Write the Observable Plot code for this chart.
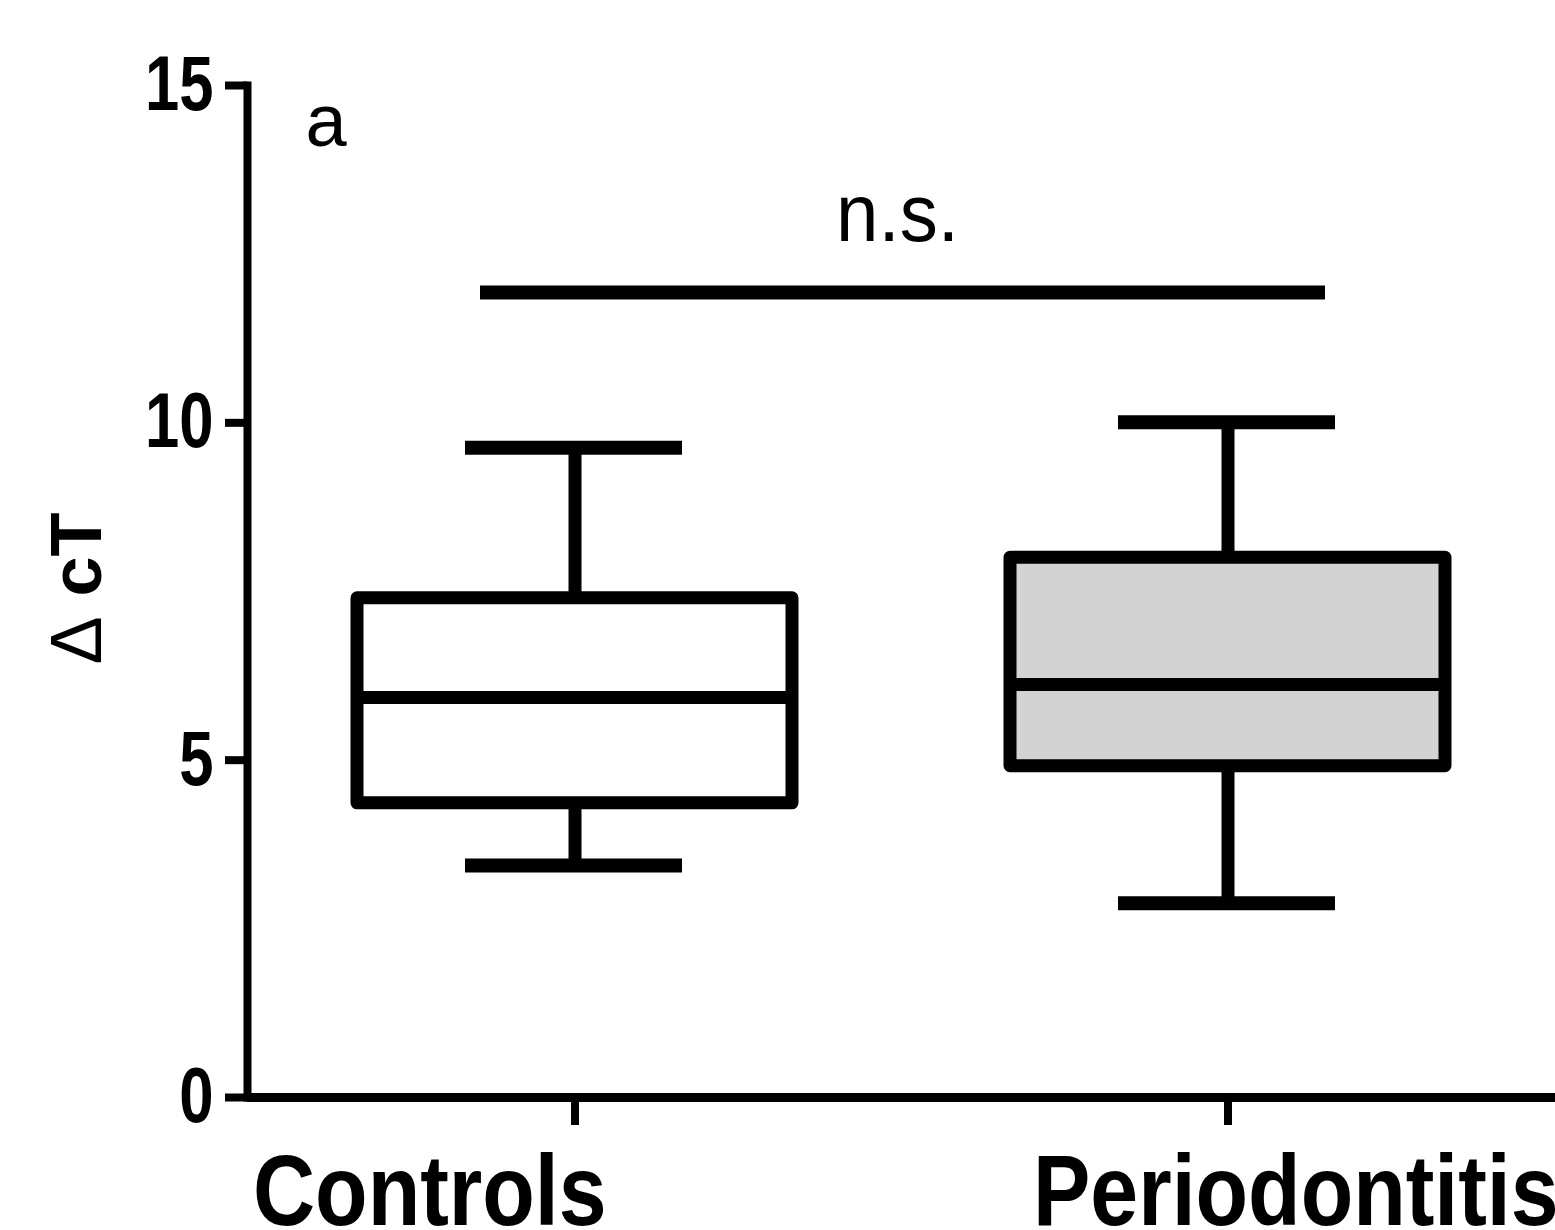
<!DOCTYPE html>
<html><head><meta charset="utf-8">
<script src="https://cdn.jsdelivr.net/npm/d3@7"></script>
<script src="https://cdn.jsdelivr.net/npm/@observablehq/plot@0.6"></script>
<style>html,body{margin:0;padding:0;background:#fff}</style>
</head><body><div id="chart"></div>
<script>
// Data
const groups = ["Controls", "Periodontitis"];
const whiskerLow = [3.44, 2.88];
const q1 = [4.36, 4.91];
const median = [5.93, 6.12];
const q3 = [7.40, 8.00];
const whiskerHigh = [9.63, 10.01];
const boxFill = ["white", "#d3d3d3"];
const yTicks = [0, 5, 10, 15];
const sigFrom = "Controls", sigTo = "Periodontitis", sigY = 11.93, sigLabel = "n.s.", sigLabelY = 12.7;
const panelLabel = "a";
const yLabelSymbol = "Δ", yLabelText = " cT";

const rows = groups.map((g, i) => ({group: g, lo: whiskerLow[i], q1: q1[i], med: median[i], q3: q3[i], hi: whiskerHigh[i], fill: boxFill[i]}));
const sig = [{from: sigFrom, to: sigTo, y: sigY, label: sigLabel, labelY: sigLabelY}];

const SANS = '"Liberation Sans", Arial, Helvetica, sans-serif';

const chart = Plot.plot({
  width: 1555, height: 1230,
  marginLeft: 247, marginRight: 0, marginTop: 85, marginBottom: 133,
  x: {type: "band", domain: groups, paddingInner: 0.334, paddingOuter: 0.168, label: null},
  y: {domain: [0, 15], label: null},
  color: {type: "identity"},
  style: {background: "white", overflow: "visible", color: "black", fontFamily: SANS},
  marks: [
    Plot.ruleX(rows, {x: "group", y1: "q3", y2: "hi", strokeWidth: 13}),
    Plot.ruleX(rows, {x: "group", y1: "lo", y2: "q1", strokeWidth: 13}),
    Plot.tickY(rows, {x: "group", y: "hi", strokeWidth: 14, insetLeft: 108, insetRight: 110}),
    Plot.tickY(rows, {x: "group", y: "lo", strokeWidth: 14, insetLeft: 108, insetRight: 110}),
    Plot.barY(rows, {x: "group", y1: "q1", y2: "q3", fill: "fill", stroke: "black", strokeWidth: 13, strokeLinejoin: "round"}),
    Plot.tickY(rows, {x: "group", y: "med", strokeWidth: 13}),
    Plot.ruleY(sig, {y: "y", x1: "from", x2: "to", strokeWidth: 14, insetLeft: 123, insetRight: 120}),
    Plot.text(sig, {y: "labelY", text: "label", lineAnchor: "bottom", dx: -4, fontSize: 82, fontFamily: SANS}),
    Plot.frame({anchor: "left", strokeWidth: 8, strokeLinecap: "square"}),
    Plot.ruleY([0], {strokeWidth: 9}),
    Plot.axisY({ticks: yTicks, tickSize: 22, strokeWidth: 8, tickPadding: 12, fontSize: 77, fontWeight: "bold", fontFamily: SANS, label: null}),
    Plot.axisX({tickSize: 28, strokeWidth: 8, tickFormat: () => "", label: null}),
    Plot.text([groups[0]], {x: d => d, frameAnchor: "bottom", textAnchor: "start", lineAnchor: "bottom", dx: -322, dy: 127, fontSize: 100, fontWeight: "bold", fontFamily: SANS}),
    Plot.text([groups[1]], {x: d => d, frameAnchor: "bottom", textAnchor: "start", lineAnchor: "bottom", dx: -195, dy: 127, fontSize: 100, fontWeight: "bold", fontFamily: SANS}),
    Plot.text([yLabelSymbol + yLabelText], {frameAnchor: "left", rotate: -90, dx: -170, dy: -3, fontSize: 72, fontWeight: "bold", fontFamily: SANS, lineAnchor: "middle", textAnchor: "middle"}),
    Plot.text([panelLabel], {frameAnchor: "top-left", textAnchor: "start", lineAnchor: "bottom", dx: 58, dy: 60, fontSize: 74, fontFamily: SANS})
  ]
});
document.getElementById("chart").appendChild(chart);

// Condensed look of the original typeface (Helvetica Condensed style)
const svg = d3.select(chart);
function squeeze(sel, factor) {
  sel.each(function () {
    const w = this.getComputedTextLength();
    this.setAttribute("textLength", (w * factor).toFixed(1));
    this.setAttribute("lengthAdjust", "spacingAndGlyphs");
  });
}
squeeze(svg.selectAll('g[aria-label="y-axis tick label"] text'), 0.8);
squeeze(svg.selectAll("text").filter(function () { return groups.includes(this.textContent); }), 0.86);
squeeze(svg.selectAll("text").filter(function () { return this.textContent === sigLabel; }), 0.93);
// y label: thin delta symbol, bold "cT"
svg.selectAll("text").filter(function () { return this.textContent === yLabelSymbol + yLabelText; }).each(function () {
  const t = d3.select(this);
  t.text(null);
  t.append("tspan").attr("font-weight", "normal").text(yLabelSymbol);
  t.append("tspan").text(yLabelText);
});
</script>
</body></html>
